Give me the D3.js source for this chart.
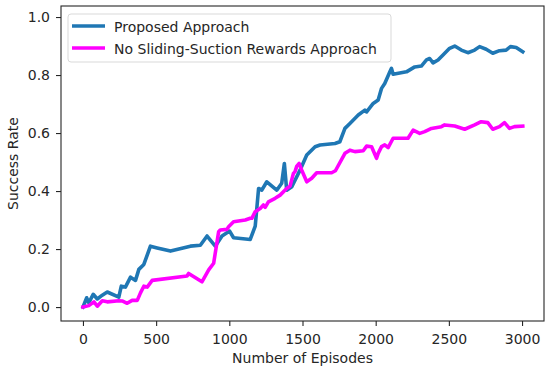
<!DOCTYPE html>
<html>
<head>
<meta charset="utf-8">
<script src="https://cdn.jsdelivr.net/npm/d3@7"></script>
<style>
  body { margin: 0; background: #fff; }
  svg text { font-family: "DejaVu Sans", sans-serif; fill: #262626; }
</style>
</head>
<body>
<svg id="chart" width="550" height="372"></svg>
<script>
// episodes / success rate
const proposedEp = [0, 25, 40, 70, 98, 132, 166, 245, 262, 290, 325, 359, 382, 416, 461, 507, 598, 734, 802, 848, 904, 950, 1002, 1029, 1143, 1177, 1200, 1222, 1256, 1324, 1358, 1376, 1392, 1427, 1483, 1529, 1586, 1620, 1722, 1755, 1790, 1824, 1881, 1926, 1938, 1983, 2017, 2040, 2062, 2097, 2108, 2119, 2210, 2267, 2312, 2347, 2369, 2392, 2426, 2460, 2505, 2540, 2585, 2630, 2676, 2710, 2755, 2800, 2846, 2891, 2921, 2960, 3005]
const proposedRate = [0, 0.032, 0.015, 0.044, 0.028, 0.041, 0.052, 0.034, 0.072, 0.069, 0.103, 0.092, 0.13, 0.147, 0.21, 0.204, 0.193, 0.21, 0.213, 0.245, 0.21, 0.245, 0.262, 0.239, 0.233, 0.279, 0.409, 0.403, 0.432, 0.403, 0.427, 0.495, 0.403, 0.415, 0.472, 0.524, 0.553, 0.559, 0.564, 0.57, 0.616, 0.633, 0.662, 0.679, 0.673, 0.702, 0.714, 0.754, 0.771, 0.811, 0.823, 0.803, 0.811, 0.828, 0.831, 0.852, 0.857, 0.842, 0.852, 0.869, 0.892, 0.9, 0.886, 0.877, 0.886, 0.898, 0.889, 0.875, 0.884, 0.886, 0.898, 0.895, 0.88]

const noSlideEp = [0, 40, 75, 98, 132, 166, 245, 268, 302, 336, 371, 393, 416, 439, 473, 711, 722, 813, 859, 893, 927, 938, 984, 995, 1029, 1109, 1143, 1154, 1177, 1211, 1233, 1245, 1267, 1313, 1347, 1392, 1415, 1438, 1449, 1461, 1477, 1495, 1529, 1563, 1597, 1699, 1725, 1790, 1824, 1858, 1915, 1938, 1972, 2006, 2017, 2040, 2062, 2085, 2119, 2221, 2256, 2301, 2335, 2381, 2449, 2471, 2540, 2608, 2676, 2721, 2766, 2800, 2846, 2880, 2914, 2948, 3005]
const noSlideRate = [0, 0.005, 0.018, 0.003, 0.022, 0.018, 0.022, 0.021, 0.013, 0.023, 0.023, 0.049, 0.072, 0.069, 0.092, 0.107, 0.116, 0.087, 0.128, 0.151, 0.26, 0.266, 0.268, 0.277, 0.294, 0.3, 0.306, 0.306, 0.329, 0.34, 0.352, 0.344, 0.363, 0.375, 0.386, 0.409, 0.417, 0.461, 0.467, 0.486, 0.495, 0.472, 0.432, 0.444, 0.463, 0.463, 0.47, 0.53, 0.541, 0.536, 0.539, 0.555, 0.553, 0.513, 0.53, 0.553, 0.559, 0.55, 0.582, 0.582, 0.61, 0.599, 0.605, 0.616, 0.622, 0.628, 0.624, 0.613, 0.628, 0.639, 0.636, 0.613, 0.622, 0.636, 0.616, 0.622, 0.624]

const xTicks = [0, 500, 1000, 1500, 2000, 2500, 3000]
const yTicks = [0, 0.2, 0.4, 0.6, 0.8, 1.0]
const seriesNames = ['Proposed Approach', 'No Sliding-Suction Rewards Approach']
const seriesColors = ['#1f77b4', '#ff00ff']

const svg = d3.select('#chart')
const plotL = 61, plotR = 544, plotT = 6, plotB = 321

const x = d3.scaleLinear().domain([-150, 3150]).range([plotL, plotR])
const y = d3.scaleLinear().domain([-0.048, 1.038]).range([plotB, plotT])

const series = [
    proposedEp.map((e, i) => ({x: e, y: proposedRate[i]})),
    noSlideEp.map((e, i) => ({x: e, y: noSlideRate[i]}))
]

const line = d3.line().x(d => x(d.x)).y(d => y(d.y))

series.forEach((s, i) => {
    svg.append('path')
        .datum(s)
        .attr('d', line)
        .attr('fill', 'none')
        .attr('stroke', seriesColors[i])
        .attr('stroke-width', 3.6)
        .attr('stroke-linejoin', 'round')
        .attr('stroke-linecap', 'square')
})

// axes
const xAxis = svg.append('g')
    .attr('transform', `translate(0,${plotB})`)
    .call(d3.axisBottom(x).tickValues(xTicks).tickSize(5).tickPadding(8).tickFormat(d3.format('d')))
const yAxis = svg.append('g')
    .attr('transform', `translate(${plotL},0)`)
    .call(d3.axisLeft(y).tickValues(yTicks).tickSize(5).tickPadding(6).tickFormat(d3.format('.1f')))

;[xAxis, yAxis].forEach(g => {
    g.select('.domain').remove()
    g.selectAll('.tick line').attr('stroke', '#262626').attr('stroke-width', 1.1)
    g.selectAll('.tick text').style('font-size', '14px').style('font-family', '"DejaVu Sans", sans-serif').attr('fill', '#262626')
})

// frame
svg.append('rect')
    .attr('x', plotL).attr('y', plotT)
    .attr('width', plotR - plotL).attr('height', plotB - plotT)
    .attr('fill', 'none').attr('stroke', '#262626').attr('stroke-width', 1.1)

// axis labels
svg.append('text')
    .attr('x', (plotL + plotR) / 2).attr('y', 363)
    .attr('text-anchor', 'middle')
    .style('font-size', '14px')
    .text('Number of Episodes')
svg.append('text')
    .attr('transform', `translate(18,${(plotT + plotB) / 2}) rotate(-90)`)
    .attr('text-anchor', 'middle')
    .style('font-size', '14px')
    .text('Success Rate')

// legend
const leg = svg.append('g')
leg.append('rect')
    .attr('x', 68).attr('y', 14).attr('width', 323).attr('height', 48)
    .attr('rx', 3)
    .attr('fill', 'rgba(255,255,255,0.8)')
    .attr('stroke', '#d9d9d9').attr('stroke-width', 1)
seriesNames.forEach((name, i) => {
    const ly = 26 + i * 22
    leg.append('line')
        .attr('x1', 72).attr('x2', 105)
        .attr('y1', ly).attr('y2', ly)
        .attr('stroke', seriesColors[i]).attr('stroke-width', 3.6)
    leg.append('text')
        .attr('x', 114).attr('y', ly + 5.5)
        .style('font-size', '14px')
        .text(name)
})
</script>
</body>
</html>
